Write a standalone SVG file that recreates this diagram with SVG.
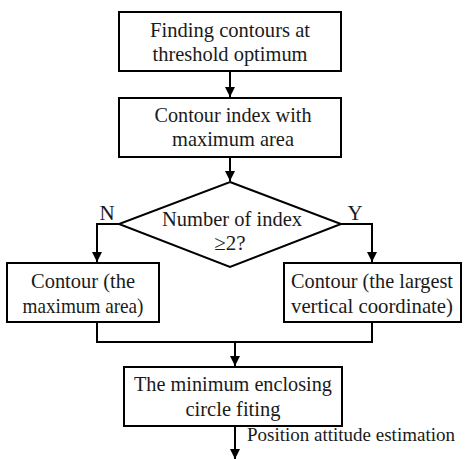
<svg xmlns="http://www.w3.org/2000/svg" width="471" height="459" viewBox="0 0 471 459" font-family="'Liberation Serif', serif">
<defs>
<marker id="ah" viewBox="0 0 10 10" refX="10" refY="5" markerWidth="10" markerHeight="10" markerUnits="userSpaceOnUse" orient="auto">
<path d="M0,0 L10,5 L0,10 Z" fill="#000"/>
</marker>
<style>
.box{fill:#fff;stroke:#000;stroke-width:2}
.ln{fill:none;stroke:#000;stroke-width:2}
text{font-family:'Liberation Serif',serif;font-size:21px;fill:#1a1a1a;text-anchor:middle}
</style>
</defs>
<rect width="471" height="459" fill="#fff"/>
<g id="connectors">
<line class="ln" x1="230" y1="71" x2="230" y2="97" marker-end="url(#ah)"/>
<line class="ln" x1="230" y1="157" x2="230" y2="181" marker-end="url(#ah)"/>
<polyline class="ln" points="119,224 97,224 97,262" marker-end="url(#ah)"/>
<polyline class="ln" points="341,224 372,224 372,262" marker-end="url(#ah)"/>
<polyline class="ln" points="97,322 97,342 372,342 372,322"/>
<line class="ln" x1="235" y1="342" x2="235" y2="366" marker-end="url(#ah)"/>
<line class="ln" x1="235" y1="426" x2="235" y2="459" marker-end="url(#ah)"/>
<text x="107" y="220">N</text>
<text x="355" y="220">Y</text>
<text x="247" y="441" style="text-anchor:start;font-size:19px">Position attitude estimation</text>
</g>
<g id="n1">
<rect class="box" x="119" y="12" width="222" height="59"/>
<text x="230" y="37" textLength="160" lengthAdjust="spacingAndGlyphs">Finding contours at</text>
<text x="230" y="61" textLength="155" lengthAdjust="spacingAndGlyphs">threshold optimum</text>
</g>
<g id="n2">
<rect class="box" x="119" y="98" width="222" height="59"/>
<text x="233" y="122" textLength="157" lengthAdjust="spacingAndGlyphs">Contour index with</text>
<text x="233" y="146" textLength="122" lengthAdjust="spacingAndGlyphs">maximum area</text>
</g>
<g id="n3">
<polygon class="box" points="230,182 341,224 230,267 119,224"/>
<text x="232" y="226" textLength="140" lengthAdjust="spacingAndGlyphs">Number of index</text>
<text x="230" y="250">≥2?</text>
</g>
<g id="n4">
<rect class="box" x="7" y="263" width="152" height="59"/>
<text x="83" y="288" textLength="104" lengthAdjust="spacingAndGlyphs">Contour (the</text>
<text x="83" y="313" textLength="121" lengthAdjust="spacingAndGlyphs">maximum area)</text>
</g>
<g id="n5">
<rect class="box" x="284" y="263" width="177" height="59"/>
<text x="372" y="288" textLength="162" lengthAdjust="spacingAndGlyphs">Contour (the largest</text>
<text x="372" y="313" textLength="162" lengthAdjust="spacingAndGlyphs">vertical coordinate)</text>
</g>
<g id="n6">
<rect class="box" x="124" y="367" width="218" height="59"/>
<text x="233" y="391" textLength="198" lengthAdjust="spacingAndGlyphs">The minimum enclosing</text>
<text x="233" y="416" textLength="95" lengthAdjust="spacingAndGlyphs">circle fiting</text>
</g>
</svg>
